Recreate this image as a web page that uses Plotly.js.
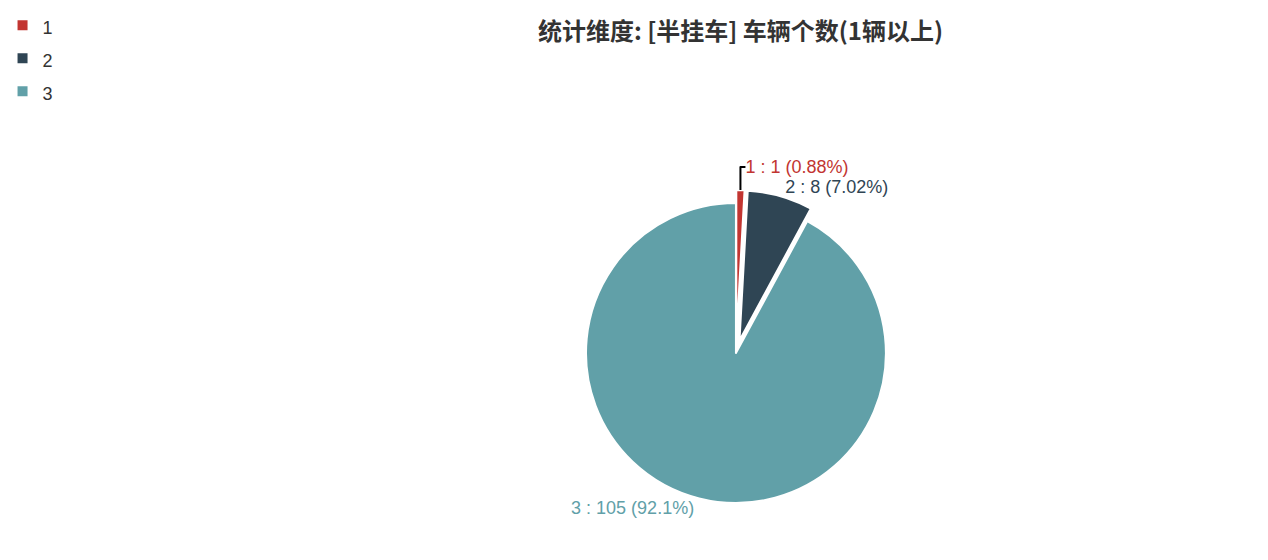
<!DOCTYPE html>
<html>
<head>
<meta charset="utf-8">
<script src="https://cdn.plot.ly/plotly-3.0.1.min.js"></script>
<style>
  html, body { margin: 0; padding: 0; background: #fff; }
  #chart { width: 1268px; height: 560px; }
</style>
</head>
<body>
<div id="chart"></div>
<script>
// vehicle count categories and how many semi-trailers fall in each
const labels = ['1', '2', '3'];
const counts = [1, 8, 105];
const pctText = ['0.88%', '7.02%', '92.1%'];
const colors = ['#c23531', '#2f4554', '#61a0a8'];
const pulls = [0.087, 0.087, 0];

const sliceText = labels.map((l, i) => l + ' : ' + counts[i] + ' (' + pctText[i] + ')');
// legend font is large to space the rows out, the label itself is smaller
const legendNames = labels.map((l) => '<span style="font-size:18px">' + l + '</span>');

var data = [{
    type: 'pie',
    labels: legendNames,
    values: counts,
    text: sliceText,
    textinfo: 'text',
    textposition: 'outside',
    hoverinfo: 'none',
    sort: false,
    direction: 'clockwise',
    rotation: 0,
    pull: pulls,
    marker: { colors: colors, line: { color: '#fff', width: 2 } },
    outsidetextfont: { color: colors, size: 18, family: 'Liberation Sans, Arial, sans-serif' },
    domain: { x: [0.4518, 0.7090], y: [0.0786, 0.6607] }
}];

var layout = {
    width: 1268,
    height: 560,
    margin: { l: 0, r: 0, t: 0, b: 0 },
    paper_bgcolor: '#fff',
    title: {
        text: '<b>统计维度: [半挂车] 车辆个数(1辆以上)</b>',
        x: 0.584,
        xanchor: 'center',
        y: 0.943,
        yanchor: 'middle',
        font: { family: 'Noto Sans CJK SC, sans-serif', size: 24, color: '#333' }
    },
    legend: {
        x: 0.002,
        y: 0.993,
        xanchor: 'left',
        yanchor: 'top',
        font: { size: 23, color: '#333', family: 'Liberation Sans, Arial, sans-serif' },
        itemwidth: 30
    },
    showlegend: true
};

Plotly.newPlot('chart', data, layout, { displayModeBar: false });
</script>
</body>
</html>
